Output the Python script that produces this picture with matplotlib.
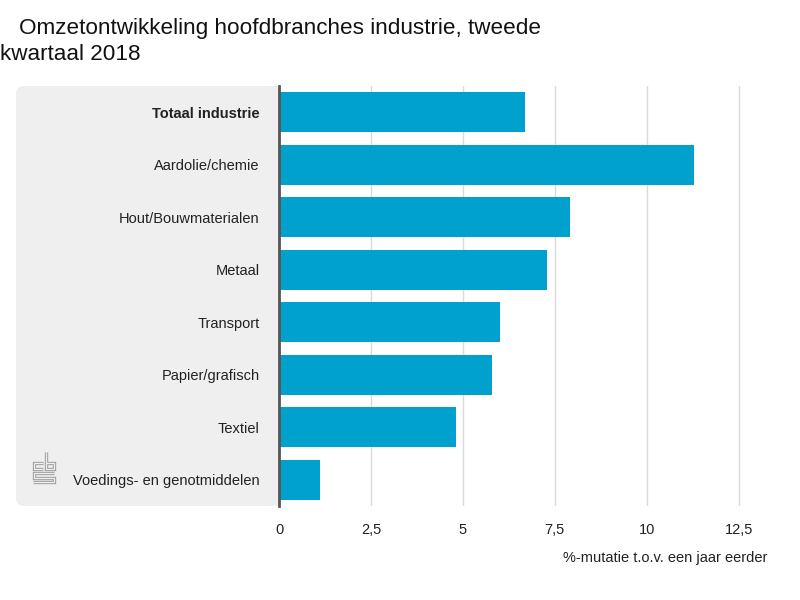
import matplotlib.pyplot as plt
from matplotlib.patches import FancyBboxPatch

plt.rcParams['font.family'] = ['Liberation Sans', 'DejaVu Sans']

categories = ['Totaal industrie', 'Aardolie/chemie', 'Hout/Bouwmaterialen', 'Metaal',
              'Transport', 'Papier/grafisch', 'Textiel', 'Voedings- en genotmiddelen']
values = [6.7, 11.3, 7.9, 7.3, 6.0, 5.8, 4.8, 1.1]
xticks = [0, 2.5, 5, 7.5, 10, 12.5]
xtick_labels = ['0', '2,5', '5', '7,5', '10', '12,5']

bar_color = '#00a1cd'
panel_color = '#efefef'

fig = plt.figure(figsize=(8, 6), dpi=100)

# grey label panel behind the category names (right part hidden by axes)
panel = FancyBboxPatch((0.16, 0.94), 2.8, 4.20,
                       boxstyle='round,pad=0,rounding_size=0.08',
                       transform=fig.dpi_scale_trans,
                       facecolor=panel_color, edgecolor='none', zorder=-5)
fig.patches.append(panel)

ax = fig.add_axes([0.349, 0.1567, 0.611, 0.7])
ypos = list(range(len(categories)))
ax.barh(ypos, values, height=0.76, color=bar_color, zorder=3)
ax.set_ylim(len(categories) - 0.5, -0.5)
ax.set_xlim(0, 13.3)

ax.set_xticks(xticks)
ax.set_xticklabels(xtick_labels, fontsize=10.5, color='#222222')
ax.set_yticks(ypos)
ax.set_yticklabels(categories, fontsize=10.5, color='#222222')
ax.get_yticklabels()[0].set_fontweight('bold')
ax.tick_params(axis='x', length=0, pad=12)
ax.tick_params(axis='y', length=0, pad=14)

ax.grid(axis='x', color='#dadada', linewidth=1, zorder=0)
for s in ['top', 'right', 'bottom']:
    ax.spines[s].set_visible(False)
ax.spines['left'].set_color('#555555')
ax.spines['left'].set_linewidth(2)
ax.spines['left'].set_zorder(4)

fig.text(0.959, 0.07, '%-mutatie t.o.v. een jaar eerder', ha='right', va='center',
         fontsize=10.5, color='#222222')

fig.text(19 / 800, 1 - 34 / 600, 'Omzetontwikkeling hoofdbranches industrie, tweede',
         ha='left', va='baseline', fontsize=16.2, color='#111111')
fig.text(0.0, 1 - 60 / 600, 'kwartaal 2018',
         ha='left', va='baseline', fontsize=16.2, color='#111111')

# cbs logo, drawn as outlined strokes
lax = fig.add_axes([32.5 / 800, 1 - 484 / 600, 23 / 800, 32 / 600])
lax.set_xlim(0, 22)
lax.set_ylim(0, 31)
lax.axis('off')
paths = [
    ([10, 1.5, 1.5, 10], [20.5, 20.5, 14.5, 14.5]),
    ([12.5, 12.5, 20.5, 20.5, 12.5], [31, 14.5, 14.5, 20.5, 20.5]),
    ([21, 1.5, 1.5, 20.5, 20.5, 0], [10.5, 10.5, 6, 6, 1.5, 1.5]),
]
for px, py in paths:
    lax.plot(px, py, color='#a0a0a0', lw=2.4, solid_joinstyle='miter',
             solid_capstyle='butt', clip_on=False)
    lax.plot(px, py, color=panel_color, lw=0.9, solid_joinstyle='miter',
             solid_capstyle='butt', clip_on=False)

fig.savefig('out.png', dpi=100)
